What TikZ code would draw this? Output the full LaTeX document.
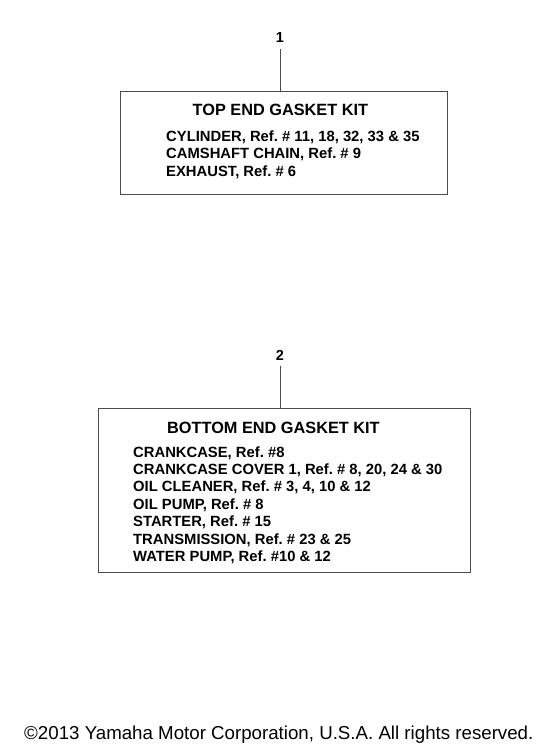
\documentclass[tikz,border=0pt]{standalone}
\usepackage{fontspec}
\setmainfont{Liberation Sans}
\frenchspacing
\begin{document}
\begin{tikzpicture}[x=1pt,y=-1pt,
  kitbox/.style={draw=black!70,line width=0.9pt,rectangle,inner sep=0pt},
  conn/.style={draw=black!70,line width=0.9pt},
  numlab/.style={font=\fontsize{14.5}{16}\selectfont\bfseries,inner sep=5pt},
  kittitle/.style={font=\fontsize{16.3}{19}\selectfont\bfseries,anchor=base west,inner sep=0pt},
  kitline/.style={font=\fontsize{14.8}{17}\selectfont\bfseries,anchor=base west,inner sep=0pt},
  foot/.style={font=\fontsize{18.7}{22}\selectfont,anchor=base west,inner sep=0pt}]
\useasboundingbox (0,0) rectangle (560,748);
% top kit
\node[numlab] (lab1) at (280,38) {1};
\node[kitbox,minimum width=327pt,minimum height=103pt] (box1) at (283.5,142.5) {};
\draw[conn,shorten <=1pt] (lab1.south) -- (lab1.south |- box1.north);
\node[kittitle] (t1) at (192.5,115.3) {TOP END GASKET KIT};
\node[kitline] (a1) at (166,141.3) {CYLINDER, Ref. \# 11, 18, 32, 33 \& 35};
\node[kitline] (a2) at (166,158.8) {CAMSHAFT CHAIN, Ref. \# 9};
\node[kitline] (a3) at (166,176.3) {EXHAUST, Ref. \# 6};
% bottom kit
\node[numlab] (lab2) at (280,355) {2};
\node[kitbox,minimum width=372pt,minimum height=164pt] (box2) at (284,490.5) {};
\draw[conn,shorten <=1pt] (lab2.south) -- (lab2.south |- box2.north);
\node[kittitle] (t2) at (167,433) {BOTTOM END GASKET KIT};
\node[kitline] (b1) at (133,457) {CRANKCASE, Ref. \#8};
\node[kitline] (b2) at (133,474.4) {CRANKCASE COVER 1, Ref. \# 8, 20, 24 \& 30};
\node[kitline] (b3) at (133,491.8) {OIL CLEANER, Ref. \# 3, 4, 10 \& 12};
\node[kitline] (b4) at (133,509.2) {OIL PUMP, Ref. \# 8};
\node[kitline] (b5) at (133,526.6) {STARTER, Ref. \# 15};
\node[kitline] (b6) at (133,544) {TRANSMISSION, Ref. \# 23 \& 25};
\node[kitline] (b7) at (133,561.4) {WATER PUMP, Ref. \#10 \& 12};
% footer
\node[foot] (ft) at (24,739) {©2013 Yamaha Motor Corporation, U.S.A. All rights reserved.};
\end{tikzpicture}
\end{document}
